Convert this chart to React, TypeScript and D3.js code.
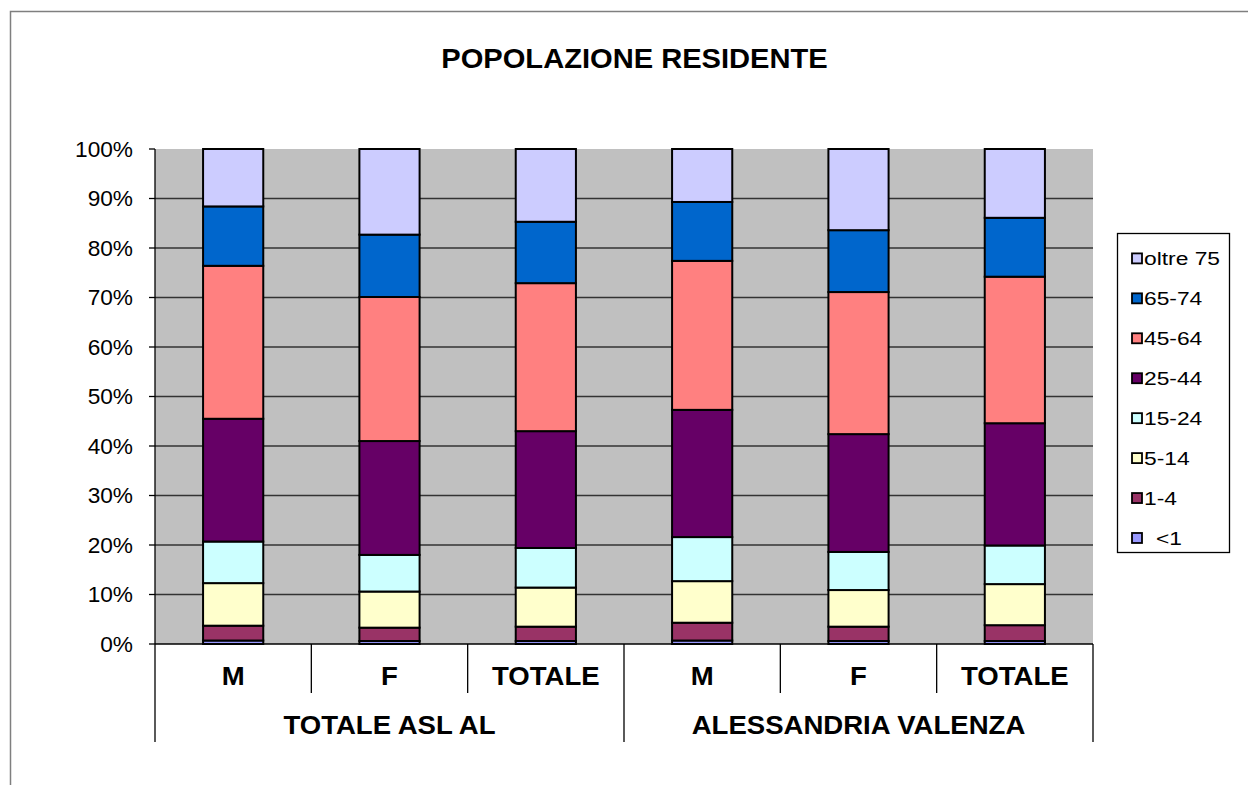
import { useMemo } from "react";
import * as d3 from "d3";

// Age groups, bottom to top of the stack
const AGE_GROUPS = ["<1", "1-4", "5-14", "15-24", "25-44", "45-64", "65-74", "oltre 75"];
const AGE_COLORS = ["#9999FF", "#993366", "#FFFFCC", "#CCFFFF", "#660066", "#FF8080", "#0066CC", "#CCCCFF"];

const CATEGORIES = ["M", "F", "TOTALE", "M", "F", "TOTALE"];
const GROUPS = ["TOTALE ASL AL", "ALESSANDRIA VALENZA"];

// share (%) of each age group, one array per bar, same order as AGE_GROUPS
const ASL_M = [0.7, 3.0, 8.6, 8.4, 24.8, 30.9, 12.0, 11.6];
const ASL_F = [0.6, 2.7, 7.3, 7.4, 23.0, 29.1, 12.6, 17.3];
const ASL_TOT = [0.6, 2.9, 7.9, 8.0, 23.6, 29.9, 12.4, 14.7];
const AV_M = [0.7, 3.6, 8.4, 8.9, 25.7, 30.1, 11.9, 10.7];
const AV_F = [0.6, 2.9, 7.4, 7.7, 23.8, 28.7, 12.5, 16.4];
const AV_TOT = [0.6, 3.2, 8.3, 7.8, 24.7, 29.6, 11.9, 13.9];

const BARS = [ASL_M, ASL_F, ASL_TOT, AV_M, AV_F, AV_TOT];
const Y_TICKS = [0, 0.1, 0.2, 0.3, 0.4, 0.5, 0.6, 0.7, 0.8, 0.9, 1];

const W = 1248;
const H = 785;
const FONT = "'Liberation Sans', Arial, sans-serif";

// text in the original is slightly stretched horizontally
function Label({
  x,
  y,
  size,
  sx = 1,
  anchor = "start",
  bold = false,
  dy,
  children,
}: {
  x: number;
  y: number;
  size: number;
  sx?: number;
  anchor?: "start" | "middle" | "end";
  bold?: boolean;
  dy?: string;
  children: string;
}) {
  return (
    <text
      transform={`translate(${x},${y}) scale(${sx},1)`}
      textAnchor={anchor}
      fontSize={size}
      fontWeight={bold ? 700 : 400}
      dy={dy}
      fill="#000"
    >
      {children}
    </text>
  );
}

export default function App() {
  const plot = { left: 155, right: 1093, top: 149, bottom: 644 };

  const rows = useMemo(
    () =>
      BARS.map((vals, i) => {
        const row: Record<string, number | string> = { key: String(i) };
        AGE_GROUPS.forEach((g, j) => (row[g] = vals[j]));
        return row;
      }),
    [],
  );

  const series = useMemo(
    () =>
      d3
        .stack<Record<string, number | string>>()
        .keys(AGE_GROUPS)
        .offset(d3.stackOffsetExpand)(rows),
    [rows],
  );

  const x = d3
    .scaleBand<string>()
    .domain(rows.map((r) => r.key as string))
    .range([plot.left, plot.right])
    .paddingInner(0.615)
    .paddingOuter(0.3075);

  const y = d3.scaleLinear().domain([0, 1]).range([plot.bottom, plot.top]);
  const step = x.step();
  const fmt = d3.format(".0%");

  const legendItems = AGE_GROUPS.map((g, i) => ({ g, c: AGE_COLORS[i] })).reverse();

  return (
    <svg
      width={W}
      height={H}
      style={{ position: "fixed", left: 0, top: 0, background: "#fff" }}
      fontFamily={FONT}
    >
      {/* outer chart frame */}
      <rect x={10.5} y={11.5} width={W} height={H} fill="none" stroke="#7f7f7f" strokeWidth={1.5} />

      <Label x={634.5} y={68} size={28} sx={1.04} anchor="middle" bold>
        POPOLAZIONE RESIDENTE
      </Label>

      {/* plot background */}
      <rect
        x={plot.left}
        y={plot.top}
        width={plot.right - plot.left}
        height={plot.bottom - plot.top}
        fill="#C0C0C0"
      />

      {/* gridlines */}
      {Y_TICKS.filter((t) => t > 0 && t < 1).map((t) => (
        <line
          key={t}
          x1={plot.left}
          x2={plot.right}
          y1={y(t)}
          y2={y(t)}
          stroke="#333"
          strokeWidth={1.3}
        />
      ))}

      {/* stacked bars */}
      {series.map((s, si) =>
        s.map((d, bi) => (
          <rect
            key={`${si}-${bi}`}
            x={x(String(bi))}
            y={y(d[1])}
            width={x.bandwidth()}
            height={y(d[0]) - y(d[1])}
            fill={AGE_COLORS[si]}
            stroke="#000"
            strokeWidth={2}
          />
        )),
      )}

      {/* y axis */}
      <line x1={plot.left} x2={plot.left} y1={plot.top} y2={plot.bottom} stroke="#000" strokeWidth={1.3} />
      {Y_TICKS.map((t) => (
        <g key={t}>
          <line x1={plot.left - 6} x2={plot.left} y1={y(t)} y2={y(t)} stroke="#000" strokeWidth={1.3} />
          <Label x={133} y={y(t)} dy="0.36em" anchor="end" size={22} sx={1.03}>
            {fmt(t)}
          </Label>
        </g>
      ))}

      {/* x axis */}
      <line x1={plot.left} x2={plot.right} y1={plot.bottom} y2={plot.bottom} stroke="#000" strokeWidth={1.3} />
      {d3.range(CATEGORIES.length + 1).map((i) => {
        const xx = plot.left + i * step;
        const long = i % 3 === 0;
        return (
          <line
            key={i}
            x1={xx}
            x2={xx}
            y1={plot.bottom}
            y2={long ? 742 : 693}
            stroke="#000"
            strokeWidth={1.3}
          />
        );
      })}
      {CATEGORIES.map((c, i) => (
        <Label
          key={i}
          x={(x(String(i)) ?? 0) + x.bandwidth() / 2}
          y={684.5}
          anchor="middle"
          size={26.5}
          sx={1.04}
          bold
        >
          {c}
        </Label>
      ))}
      {GROUPS.map((g, i) => (
        <Label
          key={g}
          x={plot.left + step * (i * 3 + 1.5)}
          y={733.5}
          anchor="middle"
          size={26.5}
          sx={1.04}
          bold
        >
          {g}
        </Label>
      ))}

      {/* legend */}
      <rect x={1117.5} y={233.5} width={112} height={319} fill="#fff" stroke="#000" strokeWidth={1.3} />
      {legendItems.map((it, i) => {
        const cy = 258.4 + i * 39.94;
        return (
          <g key={it.g}>
            <rect x={1132} y={cy - 5} width={10} height={10} fill={it.c} stroke="#000" strokeWidth={1.8} />
            <Label x={it.g === "<1" ? 1156 : 1144} y={cy} dy="0.36em" size={19} sx={1.2}>
              {it.g}
            </Label>
          </g>
        );
      })}
    </svg>
  );
}
